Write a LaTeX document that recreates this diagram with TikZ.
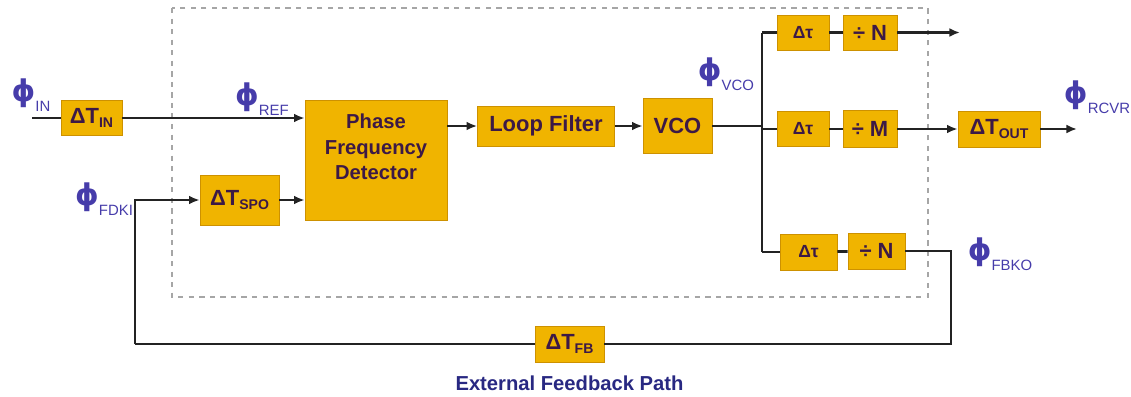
\documentclass[tikz,border=0pt]{standalone}
\usepackage{fontspec}
\setmainfont{Liberation Sans}
\newfontfamily\phfont{DejaVu Sans}
\usepackage{xcolor}
\usepackage{tikz}
\usetikzlibrary{arrows.meta,positioning}

\definecolor{blkfill}{RGB}{240,180,0}
\definecolor{blkedge}{RGB}{205,145,0}
\definecolor{blktext}{RGB}{60,25,70}
\definecolor{sigblue}{RGB}{70,60,170}
\definecolor{pathblue}{RGB}{40,40,130}
\definecolor{wire}{RGB}{35,35,35}

\newcommand{\ph}[1]{{\phfont\bfseries\fontsize{17}{17}\selectfont ϕ}\raisebox{-5.5pt}{\fontsize{8.5}{8.5}\selectfont #1}}
\newcommand{\dT}[1]{{\fontsize{12.5}{12.5}\selectfont ΔT}\raisebox{-2.5pt}{\fontsize{8}{8}\selectfont #1}}

\begin{document}
\begin{tikzpicture}[
    x=0.02cm, y=-0.02cm,
    blk/.style={rectangle, draw=blkedge, fill=blkfill, text=blktext, font=\bfseries, inner sep=0pt, align=center},
    blklabel/.style={text=blktext, inner sep=0pt, align=center, font=\bfseries\fontsize{11.5}{14.5}\selectfont},
    sig/.style={text=sigblue, inner sep=0pt},
    wireline/.style={draw=wire, line width=1.6pt},
    arrow/.style={wireline, -{Latex[length=6pt,width=5pt]}}
]
\useasboundingbox (0,0) rectangle (1131,396);

% Loop boundary
\draw[gray!70, dashed, line width=0.8pt] (172,8) rectangle (928,297);

% Nodes
\node[blk, minimum width=1.22cm, minimum height=0.7cm] (dtin) at (91.5,118) {\dT{IN}};
\node[blk, minimum width=2.84cm, minimum height=2.4cm] (pfd) at (376,160) {};
\node[blklabel] (pfdtext) at (376,147) {Phase\\Frequency\\Detector};
\node[blk, minimum width=2.74cm, minimum height=0.8cm, font=\bfseries\fontsize{12.5}{15}\selectfont] (lf) at (546,126) {Loop Filter};
\node[blk, minimum width=1.38cm, minimum height=1.1cm, font=\bfseries\fontsize{12.5}{15}\selectfont] (vco) at (677.5,126) {VCO};
\node[blk, minimum width=1.58cm, minimum height=1.0cm] (dtspo) at (239.5,200) {\dT{SPO}};

\node[blk, minimum width=1.04cm, minimum height=0.7cm, font=\bfseries\fontsize{10}{10}\selectfont] (tau1) at (803,32.5) {Δτ};
\node[blk, minimum width=1.08cm, minimum height=0.7cm, font=\bfseries\fontsize{12.5}{12.5}\selectfont] (divn1) at (870,32.5) {÷ N};
\node[blk, minimum width=1.04cm, minimum height=0.7cm, font=\bfseries\fontsize{10}{10}\selectfont] (tau2) at (803,129) {Δτ};
\node[blk, minimum width=1.08cm, minimum height=0.74cm, font=\bfseries\fontsize{12.5}{12.5}\selectfont] (divm) at (870,129) {÷ M};
\node[blk, minimum width=1.14cm, minimum height=0.72cm, font=\bfseries\fontsize{10}{10}\selectfont] (tau3) at (808.5,252) {Δτ};
\node[blk, minimum width=1.14cm, minimum height=0.72cm, font=\bfseries\fontsize{12.5}{12.5}\selectfont] (divn3) at (876.5,251) {÷ N};
\node[blk, minimum width=1.64cm, minimum height=0.72cm] (dtout) at (999,129) {\dT{OUT}};
\node[blk, minimum width=1.38cm, minimum height=0.72cm] (dtfb) at (569.5,344) {\dT{FB}};

\node[text=pathblue, font=\bfseries\fontsize{11.5}{11.5}\selectfont] (extfb) at (569.5,383) {External Feedback Path};

% Signal labels
\node[sig] (phin) at (31,95) {\ph{IN}};
\node[sig] (phref) at (262,99) {\ph{REF}};
\node[sig] (phfdki) at (104,199) {\ph{FDKI}};
\node[sig] (phvco) at (726,74) {\ph{VCO}};
\node[sig] (phrcvr) at (1097,97) {\ph{RCVR}};
\node[sig] (phfbko) at (1000,254) {\ph{FBKO}};

% Junctions and free ends
\coordinate (inl) at (32,118);
\coordinate (bus) at (762,126);
\coordinate (bustop) at (762,32.5);
\coordinate (busbot) at (762,252);
\coordinate (out1) at (960,32.5);
\coordinate (out2) at (1077,129);
\coordinate (fbr) at (951,251);
\coordinate (fbl) at (135,344);

% Edges
\draw[wireline] (inl) -- (dtin);
\draw[arrow] (dtin) -- (pfd.west |- dtin);
\draw[arrow] (pfd.east |- lf) -- (lf);
\draw[arrow] (lf) -- (vco);
\draw[wireline] (vco) -- (bus);
\draw[wireline] (bustop) -- (busbot);
\draw[wireline] (bustop) -- (tau1);
\draw[wireline] (tau1) -- (divn1);
\draw[arrow] (divn1) -- (out1);
\draw[wireline] (bus |- tau2) -- (tau2);
\draw[wireline] (tau2) -- (divm);
\draw[arrow] (divm) -- (dtout);
\draw[arrow] (dtout) -- (out2);
\draw[wireline] (busbot) -- (tau3);
\draw[wireline] (tau3) -- (divn3);
\draw[wireline] (divn3) -- (fbr) |- (dtfb);
\draw[wireline] (dtfb) -- (fbl);
\draw[arrow] (fbl) |- (dtspo);
\draw[arrow] (dtspo) -- (pfd.west |- dtspo);

\end{tikzpicture}
\end{document}
